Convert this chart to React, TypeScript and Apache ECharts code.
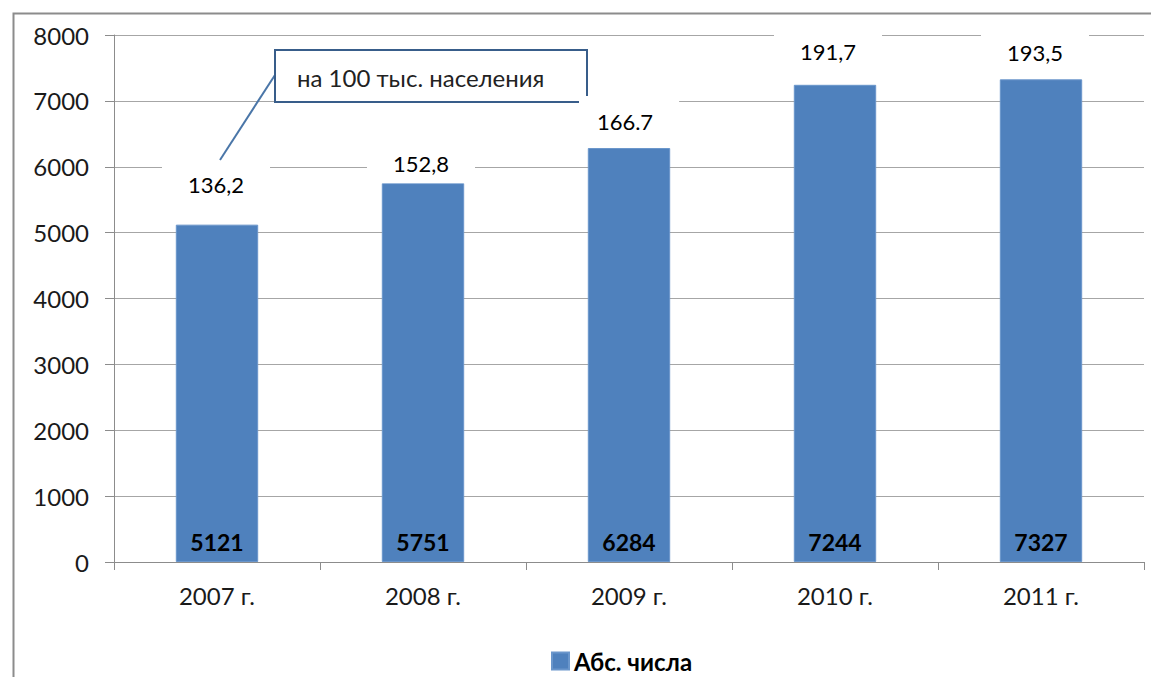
import React, { useEffect, useRef } from "react";
import * as echarts from "echarts";

const categories = ["2007 г.", "2008 г.", "2009 г.", "2010 г.", "2011 г."];
const absValues = [5121, 5751, 6284, 7244, 7327];
const rateLabels = ["136,2", "152,8", "166.7", "191,7", "193,5"];
const yTicks = { min: 0, max: 8000, interval: 1000 };
const seriesName = "Абс. числа";
const calloutText = "на 100 тыс. населения";

// layout of the rate labels above each bar (pixels: dx, height above bar top)
const rateLabelPos: [number, number][] = [
  [-1, 40],
  [-2, 20],
  [-4, 27],
  [-7, 33],
  [-6, 27],
];

const FONT = "Lato, 'Noto Sans', sans-serif";

export default function App() {
  const ref = useRef<HTMLDivElement>(null);
  useEffect(() => {
    document.body.style.margin = "0";
    const chart = echarts.init(ref.current!, undefined, { renderer: "svg" });
    chart.setOption({
      animation: false,
      backgroundColor: "#ffffff",
      textStyle: { fontFamily: FONT },
      grid: { left: 114, right: 7, top: 35, bottom: 115, containLabel: false },
      legend: {
        data: [seriesName],
        left: 551,
        top: 649,
        padding: 0,
        icon: "rect",
        itemWidth: 17,
        itemHeight: 17,
        itemGap: 5,
        textStyle: { fontFamily: FONT, fontSize: 24, lineHeight: 24, fontWeight: "bold", color: "#000" },
      },
      xAxis: {
        type: "category",
        data: categories,
        axisLine: { lineStyle: { color: "#8c8c8c", width: 1 } },
        axisTick: { show: true, length: 8, lineStyle: { color: "#8c8c8c" } },
        axisLabel: { fontFamily: FONT, fontSize: 24, color: "#1a1a1a", margin: 21 },
      },
      yAxis: {
        type: "value",
        min: yTicks.min,
        max: yTicks.max,
        interval: yTicks.interval,
        axisLine: { show: true, lineStyle: { color: "#8c8c8c", width: 1 } },
        axisTick: { show: true, length: 9, lineStyle: { color: "#8c8c8c" } },
        splitLine: { show: true, lineStyle: { color: "#a6a6a6", width: 1 } },
        axisLabel: {
          fontFamily: FONT,
          fontSize: 24,
          color: "#1a1a1a",
          margin: 25,
          formatter: (v: number) => String(v),
        },
      },
      series: [
        {
          name: seriesName,
          type: "bar",
          data: absValues,
          barWidth: "40%",
          barGap: "-100%",
          itemStyle: { color: "#4F81BD", borderColor: "#6A96CB", borderWidth: 1 },
          label: {
            show: true,
            position: "insideBottom",
            distance: 9,
            fontFamily: FONT,
            fontSize: 23,
            fontWeight: "bold",
            color: "#000",
          },
          z: 2,
        },
        {
          name: "rate",
          type: "bar",
          data: absValues.map((v, i) => ({
            value: v,
            label: {
              position: ["50%", -rateLabelPos[i][1]],
              offset: [rateLabelPos[i][0], 0],
              formatter: rateLabels[i],
            },
          })),
          barWidth: "40%",
          barGap: "-100%",
          silent: true,
          itemStyle: { color: "rgba(0,0,0,0)" },
          label: {
            show: true,
            align: "center",
            verticalAlign: "middle",
            fontFamily: FONT,
            fontSize: 22,
            lineHeight: 20,
            color: "#000",
            backgroundColor: "#ffffff",
            padding: [12, 26, 8, 26],
          },
          z: 3,
        },
      ],
      graphic: [
        {
          type: "rect",
          left: 11,
          top: 11,
          shape: { width: 1300, height: 800 },
          style: { fill: "none", stroke: "#8c8c8c", lineWidth: 2 },
          silent: true,
          z: 10,
        },
        {
          type: "line",
          shape: { x1: 275, y1: 75, x2: 220, y2: 160 },
          style: { stroke: "#4A76A8", lineWidth: 2 },
          z: 10,
        },
        {
          type: "rect",
          shape: { x: 275, y: 50, width: 312, height: 52 },
          style: { fill: "#ffffff", stroke: null },
          z: 10,
        },
        {
          type: "polyline",
          shape: { points: [[579, 102], [275, 102], [275, 50], [587, 50], [587, 96]] },
          style: { stroke: "#385D8A", lineWidth: 2, fill: null },
          z: 11,
        },
        {
          type: "text",
          x: 297,
          y: 77,
          style: {
            text: calloutText,
            fontFamily: FONT,
            fontSize: 24,
            fill: "#222",
            verticalAlign: "middle",
            align: "left",
          },
          z: 12,
        },
      ],
    });
    return () => chart.dispose();
  }, []);
  return (
    <div
      ref={ref}
      style={{ position: "fixed", left: 0, top: 0, width: 1151, height: 677 }}
    />
  );
}
